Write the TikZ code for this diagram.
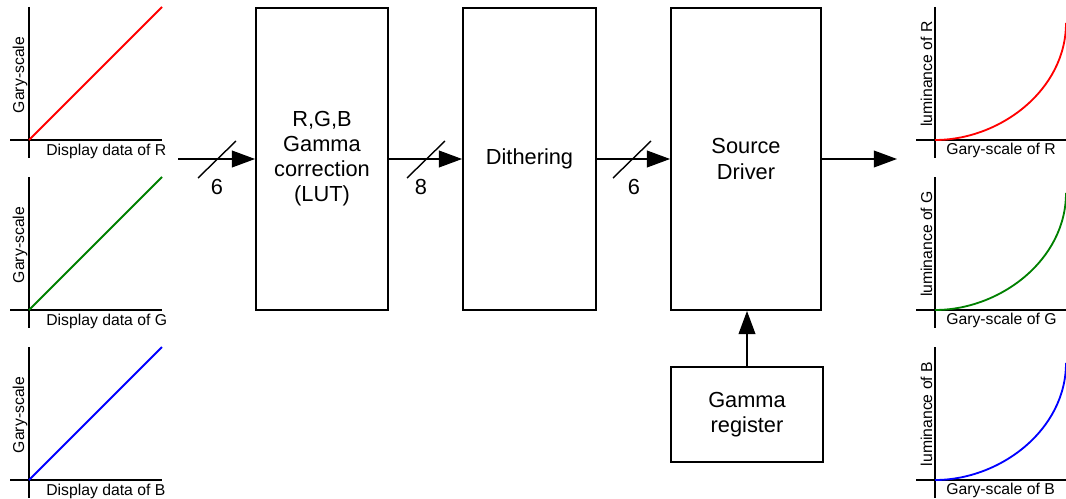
\documentclass[tikz,border=0pt]{standalone}
\usepackage{fontspec}
\setmainfont{Liberation Sans}
\usetikzlibrary{arrows.meta,positioning,calc}

\begin{document}
\begin{tikzpicture}[x=0.025cm,y=-0.025cm,
  blk/.style={draw=black,line width=1.3pt,fill=white,align=center,inner sep=0,
    font=\fontsize{15.5}{17.8}\selectfont},
  ax/.style={line width=1.4pt,black},
  crv/.style={line width=1.3pt},
  lab/.style={font=\fontsize{11.2}{13}\selectfont,inner sep=0},
  num/.style={font=\fontsize{15.5}{17.8}\selectfont,inner sep=0},
  bus/.style={line width=1pt,-{Triangle[length=0.58cm,width=0.42cm]}},
  slash/.style={line width=1pt}]
\useasboundingbox (0,0) rectangle (1066,499);

%% processing blocks
\node[blk,minimum width=3.3cm,minimum height=7.55cm] (lut) at (322,159)
  {R,G,B\\Gamma\\correction\\(LUT)};
\node[blk,minimum width=3.325cm,minimum height=7.55cm] (dith) at (529.5,159) {Dithering};
\node[blk,minimum width=3.75cm,minimum height=7.55cm] (drv) at (746,159) {Source\\Driver};
\node[blk,minimum width=3.8cm,minimum height=2.375cm] (greg) at (747,414.5) {Gamma\\register};

%% data path
\coordinate (in) at (178,159);
\coordinate (out) at (897,159);
\draw[bus] (in) -- (lut.west |- in);
\draw[bus] (lut.east |- in) -- (dith.west |- in);
\draw[bus] (dith.east |- in) -- (drv.west |- in);
\draw[bus] (drv.east |- out) -- (out);
\draw[bus] (greg.north) -- (greg.north |- drv.south);

%% bus widths
\foreach \cx/\lx/\n/\lb in {217/217/w1/6, 426/421/w2/8, 632/634/w3/6} {
  \draw[slash] (\cx-19,178) -- (\cx+19,141);
  \node[num] (\n) at (\lx,187) {\lb};
}

%% input (linear) and output (gamma) curves, one row per colour
\foreach \c/\ch/\dy in {red/R/0, green!50!black/G/170, blue/B/340} {
  \begin{scope}[shift={(0,\dy)}]
    % display data -> gray-scale
    \draw[ax] (29,7) -- (29,158);
    \draw[ax] (10,140) -- (162,140);
    \draw[crv,\c] (29,140) -- (162,7);
    \node[lab,rotate=90,anchor=base] at (24,75) {Gary-scale};
    \node[lab,anchor=base west] at (46,155) {Display data of \ch};
    % gray-scale -> luminance
    \draw[ax] (935,7) -- (935,158);
    \draw[ax] (916,140) -- (1066,140);
    \draw[crv,\c] (935,140) .. controls (1000,140) and (1066,90) .. (1066,23);
    \node[lab,rotate=90,anchor=base] at (932,74) {luminance of \ch};
    \node[lab,anchor=base west] at (946,154) {Gary-scale of \ch};
  \end{scope}
}
\end{tikzpicture}
\end{document}
